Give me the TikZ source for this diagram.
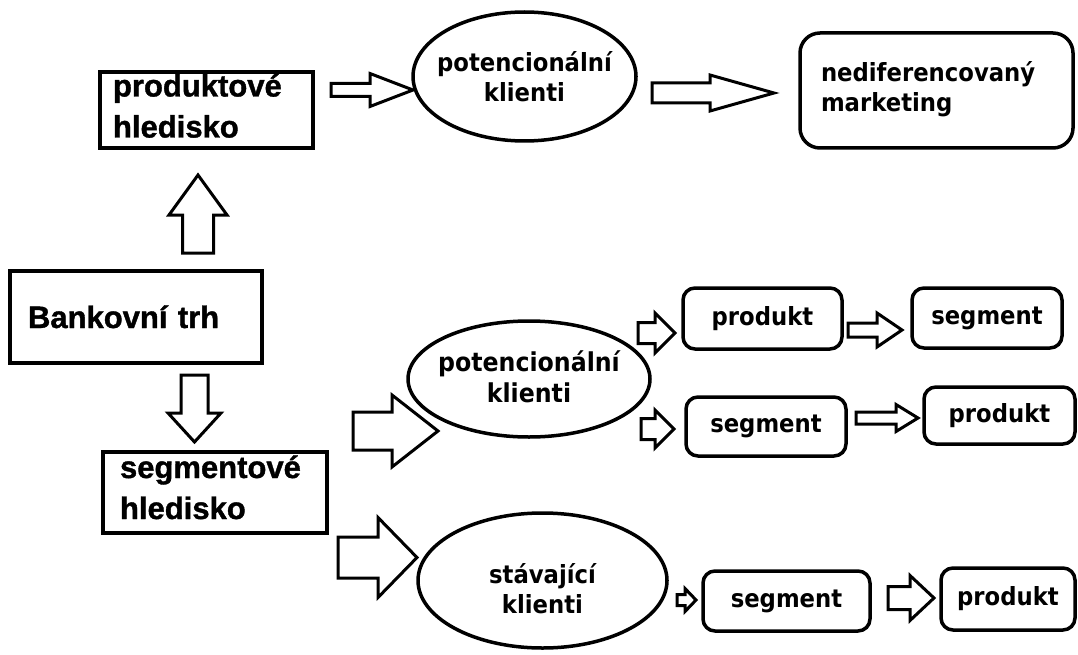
\documentclass[tikz,border=0pt]{standalone}
\usepackage{fontspec}
\setmainfont{Liberation Sans}[BoldFeatures={FakeBold=1.2}]
\newfontfamily\tahoma{DejaVu Sans}[FakeStretch=0.91]
\usetikzlibrary{shapes.geometric}

\tikzset{
  pics/hollow/.style n args={4}{code={
    \draw[hollowline] (0,-#3) -- (#1-#2,-#3) -- (#1-#2,-#4) -- (#1,0)
      -- (#1-#2,#4) -- (#1-#2,#3) -- (0,#3) -- cycle;
  }}
}

\begin{document}
\begin{tikzpicture}[x=1pt, y=-1pt,
view/.style={draw, rectangle, line width=4pt, align=left, inner ysep=0pt,
  font=\bfseries\fontsize{31}{41}\selectfont, text height=22pt, text depth=49pt},
clients/.style={draw, ellipse, line width=3.5pt, align=center, inner xsep=-60pt, inner ysep=-20pt,
  font=\tahoma\bfseries\fontsize{25}{30}\selectfont, text depth=0pt},
result/.style={draw, rectangle, rounded corners=12pt, line width=3.5pt, inner sep=0pt,
  font=\tahoma\bfseries\fontsize{25}{30}\selectfont}
]

\tikzstyle{hollowline} = [draw, line width=3pt, line join=miter, fill=white]

  \useasboundingbox (0,0) rectangle (1078,655);
  \fill[white] (0,0) rectangle (1078,655);

  \node (prodview) [view, inner xsep=13pt, text width=187pt, minimum height=76pt] at (206.5,110) {produktové\\hledisko};
  \node (bank)     [view, inner xsep=18pt, text width=216pt, minimum height=92pt, text depth=0pt] at (136,317) {Bankovní trh};
  \node (segview)  [view, inner xsep=17pt, text width=190pt, minimum height=81pt, text depth=51pt] at (215,492.5) {segmentové\\hledisko};

  \node (pot1) [clients, minimum width=223pt, minimum height=129pt, text height=51pt] at (524.5,76.5) {potencionální\\klienti};
  \node (pot2) [clients, minimum width=242pt, minimum height=116pt, text height=46pt,
    font=\tahoma\bfseries\fontsize{26}{31}\selectfont] at (529,379) {potencionální\\klienti};
  \node (stav) [clients, minimum width=249pt, minimum height=135pt, text height=65pt] at (542.5,580.5) {stávající\\klienti};

  \node (nedif) [result, rounded corners=20pt, align=left, inner xsep=21pt, text width=231pt,
    minimum height=115pt, text height=19pt, text depth=36pt] at (936.5,90.5) {nediferencovaný\\marketing};

  \node (prod1) [result, minimum width=159pt, minimum height=61pt] at (762.5,318.5) {produkt};
  \node (seg1)  [result, minimum width=150pt, minimum height=60pt] at (987,318)     {segment};
  \node (seg2)  [result, minimum width=160pt, minimum height=59pt] at (766,426.5)   {segment};
  \node (prod2) [result, minimum width=151pt, minimum height=57pt] at (999.5,415.5) {produkt};
  \node (seg3)  [result, minimum width=167pt, minimum height=60pt] at (786.5,601)   {segment};
  \node (prod3) [result, minimum width=134pt, minimum height=62pt] at (1008,599)    {produkt};

  \pic at (331,90)               {hollow={82}{43}{6.5}{16.5}};
  \pic at (652,93)               {hollow={122}{64}{10}{18}};
  \pic[rotate=90]  at (198,253)  {hollow={78}{40}{15.5}{29}};
  \pic[rotate=-90] at (194.5,375) {hollow={67}{29}{13.5}{26.5}};
  \pic at (353,431)              {hollow={85}{46}{19}{36}};
  \pic at (338,557.5)            {hollow={79}{39}{20.5}{40}};
  \pic at (638,333)              {hollow={37}{20}{10.5}{20}};
  \pic at (641,429)              {hollow={33}{19}{10.5}{19}};
  \pic at (848,330)              {hollow={54}{25}{7}{17}};
  \pic at (856,418)              {hollow={62}{22}{6}{13.5}};
  \pic at (677,600)              {hollow={19}{11}{5.5}{11.5}};
  \pic at (888,598)              {hollow={46}{24}{11.5}{22.5}};

\end{tikzpicture}
\end{document}
